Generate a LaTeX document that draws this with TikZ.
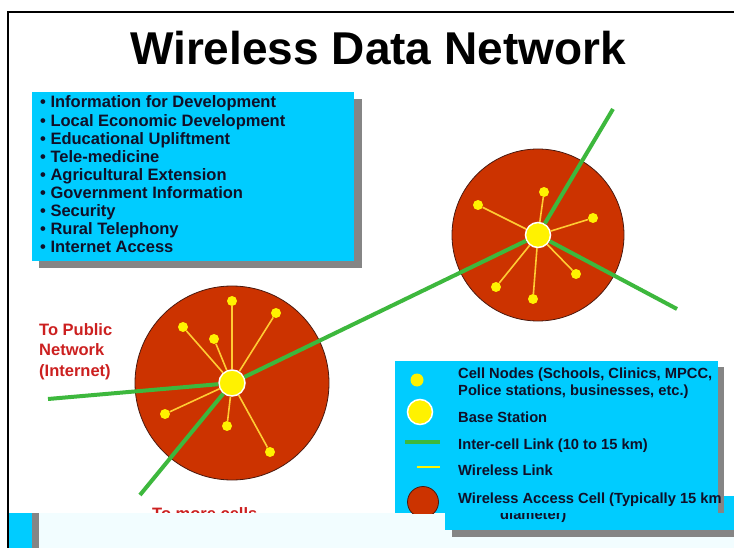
\documentclass[tikz,border=0pt]{standalone}
\usepackage{fontspec}
\setmainfont{Liberation Sans}
\usetikzlibrary{positioning}

\definecolor{boxcyan}{HTML}{00CCFF}
\definecolor{shadowgrey}{HTML}{858585}
\definecolor{cellred}{HTML}{CC3300}
\definecolor{cellrim}{HTML}{4A1A10}
\definecolor{linkgreen}{HTML}{3DB83D}
\definecolor{wlyellow}{HTML}{FFCC33}
\definecolor{nodeyellow}{HTML}{FFF200}
\definecolor{labelred}{HTML}{CC2020}
\definecolor{inktext}{HTML}{101028}
\definecolor{glitchpale}{HTML}{F2FDFF}

\begin{document}
\begin{tikzpicture}[x=1pt,y=-1pt,
  titletext/.style={anchor=base,inner sep=0pt,font=\fontsize{46}{50}\selectfont\bfseries},
  listitem/.style={anchor=base west,inner sep=0pt,text=inktext,font=\fontsize{16.5}{18}\selectfont\bfseries},
  legendtext/.style={anchor=base west,inner sep=0pt,text=inktext,font=\fontsize{14.7}{16}\selectfont\bfseries},
  redlabel/.style={inner sep=0pt,text=labelred,font=\fontsize{16.5}{20.7}\selectfont\bfseries},
  cellarea/.style={fill=cellred,draw=cellrim,line width=0.8pt},
  cellnode/.style={circle,fill=nodeyellow,inner sep=0pt,minimum size=10pt},
  basenode/.style={circle,fill=nodeyellow,draw=white,line width=1.5pt,inner sep=0pt,minimum size=26pt},
  wlink/.style={wlyellow,line width=1.6pt},
  intercell/.style={linkgreen,line width=4pt}]
  \useasboundingbox (0,0) rectangle (734,548);
  \fill[white] (0,0) rectangle (734,548);
  % slide frame
  \draw[line width=2pt] (7.7,548) -- (7.7,12) -- (734,12);
  \node[titletext] (title) at (378,65) {Wireless Data Network};

  % application list
  \fill[shadowgrey] (39,99) rectangle (362,268);
  \fill[boxcyan] (32,92) rectangle (354,261);
  \foreach \txt [count=\i] in {Information for Development,Local Economic Development,
      Educational Upliftment,Tele-medicine,Agricultural Extension,Government Information,
      Security,Rural Telephony,Internet Access}
    \node[listitem] (app\i) at (40,{108+18.1*(\i-1)}) {\textbullet\ \txt};

  % access cells
  \draw[cellarea] (232,383) circle[radius=97pt];
  \draw[cellarea] (538,235) circle[radius=86pt];
  \node[basenode] (bsL) at (232,383) {};
  \node[basenode,minimum size=25pt] (bsR) at (538,235) {};

  % inter-cell links
  \coordinate (pubnet) at (48,399);
  \coordinate (morecells) at (140,495);
  \coordinate (farNE) at (613,109);
  \coordinate (farSE) at (677,309);
  \draw[intercell] (pubnet) -- (bsL);
  \draw[intercell] (morecells) -- (bsL);
  \draw[intercell] (bsL) -- (bsR);
  \draw[intercell] (bsR) -- (farNE);
  \draw[intercell] (bsR) -- (farSE);

  % cell nodes and wireless links
  \foreach \pos [count=\i] in {(232,301),(276,313),(183,327),(214,339),(165,414),(227,426),(270,452)}{
    \node[cellnode] (cnL\i) at \pos {};
    \draw[wlink] (bsL) -- (cnL\i);
  }
  \foreach \pos [count=\i] in {(544,192),(478,205),(593,218),(576,274),(496,287),(533,299)}{
    \node[cellnode] (cnR\i) at \pos {};
    \draw[wlink] (bsR) -- (cnR\i);
  }

  \node[redlabel,align=left,anchor=north west] (pubnetlbl) at (39,323) {To Public\\Network\\(Internet)};
  \node[redlabel,anchor=base west] (morelbl) at (152,519) {To more cells};

  % lower strip
  \fill[glitchpale] (39,513) rectangle (734,548);
  \fill[boxcyan] (9,513) rectangle (32,548);
  \fill[shadowgrey] (32,513) rectangle (39,548);
  \fill[shadowgrey] (452,503) rectangle (734,537);
  \fill[boxcyan] (445,496) rectangle (734,530);
  \node[legendtext] (legdiam) at (500,519) {diameter)};

  % legend
  \fill[shadowgrey] (401,367) rectangle (724,513);
  \fill[boxcyan] (395,361) rectangle (718,513);
  \node[cellnode,minimum size=13pt] (keynode) at (417,380) {};
  \node[basenode,minimum size=25pt] (keybase) at (420,412) {};
  \coordinate (keyinterA) at (405,442);
  \coordinate (keyinterB) at (440,442);
  \draw[intercell] (keyinterA) -- (keyinterB);
  \coordinate (keywlA) at (417,467);
  \coordinate (keywlB) at (440,467);
  \draw[nodeyellow,line width=1.3pt] (keywlA) -- (keywlB);
  \begin{scope}
    \clip (395,361) rectangle (718,513);
    \draw[cellarea] (423,502) circle[radius=15.5pt];
  \end{scope}
  \node[legendtext] (keytxt1) at (458,378) {Cell Nodes (Schools, Clinics, MPCC,};
  \node[legendtext] (keytxt2) at (458,395) {Police stations, businesses, etc.)};
  \node[legendtext] (keytxt3) at (458,422) {Base Station};
  \node[legendtext] (keytxt4) at (458,449) {Inter-cell Link (10 to 15 km)};
  \node[legendtext] (keytxt5) at (458,475) {Wireless Link};
  \node[legendtext] (keytxt6) at (458,503) {Wireless Access Cell (Typically 15 km};
\end{tikzpicture}
\end{document}
